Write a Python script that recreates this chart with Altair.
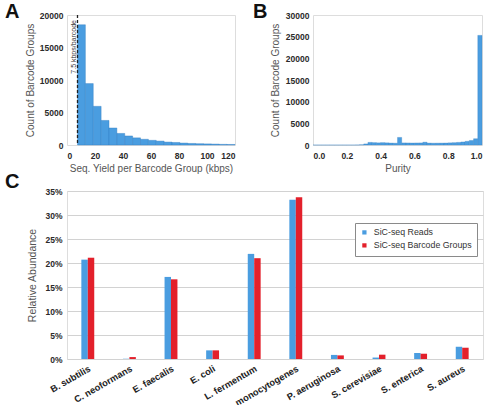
import altair as alt
import pandas as pd

FONT = "Liberation Sans"
BLUE = "#4a9de0"
BLUE_EDGE = "#2f7cc0"
RED = "#e3202b"
LABEL_COLOR = "#2a2a2a"
TITLE_COLOR = "#555555"

# ---------- Panel A: sequencing yield histogram ----------
A_BIN_EDGES = [7.5, 13.125, 18.75, 24.375, 30.0, 35.625, 41.25, 46.875, 52.5, 58.125,
               63.75, 69.375, 75.0, 80.625, 86.25, 91.875, 97.5, 103.125, 108.75, 114.375, 120.0]
A_COUNTS = [18500, 9450, 5950, 3780, 2620, 1780, 1390, 1100, 880, 720,
            600, 450, 390, 300, 240, 200, 170, 140, 100, 80]
A_THRESHOLD = [7.5]
A_THRESHOLD_LABEL = ["7.5 kbps/barcode"]
A_X_TICKS = [0, 20, 40, 60, 80, 100, 120]
A_Y_TICKS = [0, 5000, 10000, 15000, 20000]

# ---------- Panel B: purity histogram ----------
B_BIN_START = [0.0, 0.025, 0.05, 0.075, 0.1, 0.125, 0.15, 0.175, 0.2, 0.225,
               0.25, 0.275, 0.3, 0.325, 0.35, 0.375, 0.4, 0.425, 0.45, 0.475,
               0.5, 0.525, 0.55, 0.575, 0.6, 0.625, 0.65, 0.675, 0.7, 0.725,
               0.75, 0.775, 0.8, 0.825, 0.85, 0.875, 0.9, 0.925, 0.95, 0.975]
B_BIN_END = [0.025, 0.05, 0.075, 0.1, 0.125, 0.15, 0.175, 0.2, 0.225, 0.25,
             0.275, 0.3, 0.325, 0.35, 0.375, 0.4, 0.425, 0.45, 0.475, 0.5,
             0.525, 0.55, 0.575, 0.6, 0.625, 0.65, 0.675, 0.7, 0.725, 0.75,
             0.775, 0.8, 0.825, 0.85, 0.875, 0.9, 0.925, 0.95, 0.975, 1.0]
B_COUNTS = [0, 0, 0, 0, 0, 0, 0, 0, 0, 0,
            10, 60, 250, 600, 550, 500, 550, 500, 450, 420,
            1750, 480, 470, 460, 470, 480, 650, 450, 420, 430,
            440, 460, 500, 540, 600, 700, 850, 1050, 1450, 25300]
B_X_TICKS = [0.0, 0.2, 0.4, 0.6, 0.8, 1.0]
B_Y_TICKS = [0, 5000, 10000, 15000, 20000, 25000, 30000]

# ---------- Panel C: relative abundance ----------
SPECIES = ["B. subtilis", "C. neoformans", "E. faecalis", "E. coli", "L. fermentum",
           "L. monocytogenes", "P. aeruginosa", "S. cerevisiae", "S. enterica", "S. aureus"]
SERIES = ["SiC-seq Reads", "SiC-seq Barcode Groups"]
READS = [0.207, 0.0005, 0.171, 0.018, 0.219, 0.332, 0.0085, 0.003, 0.0125, 0.0255]
GROUPS = [0.211, 0.004, 0.166, 0.018, 0.210, 0.337, 0.0075, 0.009, 0.011, 0.0235]
C_Y_TICKS = [0, 0.05, 0.10, 0.15, 0.20, 0.25, 0.30, 0.35]

PANEL_LETTERS = ["A", "B", "C"]


def lab_axis(**kw):
    base = dict(labelFont=FONT, labelFontSize=8.5, labelFontWeight="bold", labelColor=LABEL_COLOR,
                titleFont=FONT, titleFontSize=10, titleFontWeight="normal", titleColor=TITLE_COLOR,
                domain=False, ticks=False, grid=False, labelOverlap=False, labelLimit=400)
    base.update(kw)
    return alt.Axis(**base)


def letter(ch, x, y):
    return alt.Chart(pd.DataFrame({"t": [ch]})).mark_text(
        font=FONT, fontSize=20, fontWeight="bold", color="#111111", align="left", baseline="top"
    ).encode(text="t:N", x=alt.value(x), y=alt.value(y))


# Panel A
A_XSCALE = alt.Scale(domain=[0, 120], nice=False, zero=False)
A_XAXIS = lab_axis(values=A_X_TICKS, format="d", title="Seq. Yield per Barcode Group (kbps)",
                   labelPadding=6, titlePadding=4)
dfA = pd.DataFrame({"start": A_BIN_EDGES[:-1], "end": A_BIN_EDGES[1:], "count": A_COUNTS})
barsA = alt.Chart(dfA).mark_rect(color=BLUE, stroke=BLUE_EDGE, strokeWidth=0.4).encode(
    x=alt.X("start:Q", scale=A_XSCALE, axis=A_XAXIS),
    x2="end:Q",
    y=alt.Y("count:Q", scale=alt.Scale(domain=[0, 20000], nice=False),
            axis=lab_axis(values=A_Y_TICKS, format="d", title="Count of Barcode Groups",
                          labelPadding=4, titlePadding=4)),
    y2=alt.datum(0),
)
dfT = pd.DataFrame({"x": A_THRESHOLD, "label": A_THRESHOLD_LABEL})
ruleA = alt.Chart(dfT).mark_rule(color="#222222", strokeDash=[3, 2], strokeWidth=1.3).encode(
    x=alt.X("x:Q", scale=A_XSCALE, axis=A_XAXIS))
textA = alt.Chart(dfT).mark_text(font=FONT, fontSize=7, color="#333333", angle=270,
                                 align="right", baseline="bottom", dy=-1).encode(
    x=alt.X("x:Q", scale=A_XSCALE, axis=A_XAXIS), y=alt.value(5), text="label:N")
panelA = alt.layer(barsA, ruleA, textA, letter(PANEL_LETTERS[0], -62, -13)).properties(width=168, height=130)

# Panel B
dfB = pd.DataFrame({"start": B_BIN_START, "end": B_BIN_END, "count": B_COUNTS})
barsB = alt.Chart(dfB).mark_rect(color=BLUE, stroke=BLUE_EDGE, strokeWidth=0.3).encode(
    x=alt.X("start:Q", scale=alt.Scale(domain=[0, 1], nice=False),
            axis=lab_axis(values=B_X_TICKS, format=".1f", title="Purity",
                          labelPadding=6, titlePadding=4)),
    x2="end:Q",
    y=alt.Y("count:Q", scale=alt.Scale(domain=[0, 30000], nice=False),
            axis=lab_axis(values=B_Y_TICKS, format="d", title="Count of Barcode Groups",
                          labelPadding=4, titlePadding=5)),
    y2=alt.datum(0),
)
panelB = alt.layer(barsB, letter(PANEL_LETTERS[1], -60, -13)).properties(width=169, height=130)

# Panel C
rows = []
for s, r, g in zip(SPECIES, READS, GROUPS):
    rows.append({"species": s, "series": SERIES[0], "value": r})
    rows.append({"species": s, "series": SERIES[1], "value": g})
dfC = pd.DataFrame(rows)
barsC = alt.Chart(dfC).mark_bar().encode(
    x=alt.X("species:N", sort=SPECIES, scale=alt.Scale(paddingInner=0.69, paddingOuter=0.345),
            axis=lab_axis(title=None, labelAngle=330, labelAlign="right", labelBaseline="top",
                          labelFontSize=9.3, labelPadding=5, labelColor="#222222")),
    xOffset=alt.XOffset("series:N", sort=SERIES, scale=alt.Scale(paddingInner=0, paddingOuter=0)),
    y=alt.Y("value:Q", scale=alt.Scale(domain=[0, 0.35], nice=False),
            axis=lab_axis(values=C_Y_TICKS, format=".0%", title="Relative Abundance",
                          labelPadding=5, titlePadding=7, grid=True, gridColor="#d2d2d2",
                          gridWidth=1, titleFontSize=10.5)),
    color=alt.Color("series:N", sort=SERIES, scale=alt.Scale(domain=SERIES, range=[BLUE, RED]),
                    legend=alt.Legend(title=None, orient="none", legendX=288, legendY=32,
                                      fillColor="white", strokeColor="#8a8a8a", padding=5,
                                      symbolType="square", symbolSize=18, symbolStrokeWidth=0,
                                      labelFont=FONT, labelFontSize=8.8, labelColor="#333333",
                                      rowPadding=3, labelOffset=5)),
)
panelC = alt.layer(barsC, letter(PANEL_LETTERS[2], -62, -19)).properties(width=416, height=168)

top = alt.hconcat(panelA, panelB, spacing=78, bounds="flush")
chart = alt.vconcat(top, panelC, spacing=-3).resolve_legend(color="independent").properties(
    padding={"left": 4, "top": 1, "right": 2, "bottom": 40}
).configure_view(stroke="#555555", strokeWidth=1).configure_axis(labelOverlap=False).configure(
    background="white")

chart.save("out.html", embed_options={"renderer": "svg", "actions": False})
